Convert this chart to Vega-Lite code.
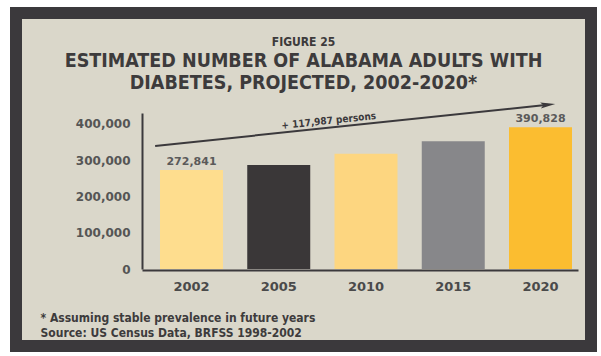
{
  "$schema": "https://vega.github.io/schema/vega-lite/v6.json",
  "autosize": {"type": "none"},
  "width": 575,
  "height": 333,
  "padding": {"left": 16, "top": 13, "right": 10, "bottom": 10},
  "background": "#ffffff",
  "config": {
    "view": {"fill": "#dad7ca", "stroke": "#3b393c", "strokeWidth": 12},
    "font": "DejaVu Sans"
  },
  "title": {
    "text": "FIGURE 25",
    "subtitle": ["ESTIMATED NUMBER OF ALABAMA ADULTS WITH", "DIABETES, PROJECTED, 2002-2020*"],
    "anchor": "middle",
    "frame": "group",
    "orient": "top",
    "offset": -80,
    "font": "DejaVu Sans Condensed",
    "fontSize": 12,
    "fontWeight": "bold",
    "color": "#3d3b3c",
    "subtitleFont": "DejaVu Sans Condensed",
    "subtitleFontSize": 19.5,
    "subtitleFontWeight": "bold",
    "subtitleColor": "#3d3b3c",
    "subtitlePadding": 3,
    "subtitleLineHeight": 22
  },
  "datasets": {
    "bars": [
      {"year": "2002", "value": 272841, "label": "272,841"},
      {"year": "2005", "value": 287000, "label": ""},
      {"year": "2010", "value": 318000, "label": ""},
      {"year": "2015", "value": 352000, "label": ""},
      {"year": "2020", "value": 390828, "label": "390,828"}
    ],
    "arrow": [
      {"ax": 0.242, "ay": 339000, "ax2": 0.925, "ay2": 452900, "note": "+ 117,987 persons", "tx": 0.544, "ty": 408000}
    ]
  },
  "layer": [
    {
      "data": {"name": "bars"},
      "layer": [
        {
          "mark": {"type": "bar"},
          "encoding": {
            "x": {
              "field": "year",
              "type": "ordinal",
              "scale": {"range": [126, 562], "paddingInner": 0.278, "paddingOuter": 0.1375, "align": 0.75},
              "axis": {
                "orient": "bottom",
                "offset": -76,
                "title": ["* Assuming stable prevalence in future years", "Source: US Census Data, BRFSS 1998-2002"],
                "titleAnchor": "start",
                "titleAlign": "left",
                "titleX": 24,
                "titleY": 42,
                "titleBaseline": "top",
                "titleFont": "DejaVu Sans Condensed",
                "titleFontSize": 12,
                "titleFontWeight": "bold",
                "titleColor": "#3d3b3c",
                "titleLineHeight": 15,
                "labelAngle": 0,
                "ticks": false,
                "grid": false,
                "domainColor": "#3b393c",
                "domainWidth": 2,
                "labelFont": "DejaVu Sans",
                "labelFontWeight": "bold",
                "labelFontSize": 13,
                "labelColor": "#4a4a4a",
                "labelPadding": 10
              }
            },
            "y": {
              "field": "value",
              "type": "quantitative",
              "scale": {"domain": [0, 430000], "range": [256, 100], "nice": false, "zero": true},
              "axis": {
                "orient": "left",
                "offset": -126,
                "title": null,
                "values": [0, 100000, 200000, 300000, 400000],
                "format": ",.0f",
                "ticks": false,
                "grid": false,
                "domainColor": "#3b393c",
                "domainWidth": 2,
                "labelFont": "DejaVu Sans",
                "labelFontWeight": "bold",
                "labelFontSize": 12,
                "labelColor": "#555555",
                "labelPadding": 12,
                "labelOverlap": false
              }
            },
            "color": {
              "field": "year",
              "type": "nominal",
              "scale": {"domain": ["2002", "2005", "2010", "2015", "2020"], "range": ["#fedd8e", "#3a3738", "#fdd680", "#87878a", "#fbbd30"]},
              "legend": null
            }
          }
        },
        {
          "transform": [{"filter": "datum.label != ''"}],
          "mark": {"type": "text", "baseline": "bottom", "dy": -3, "font": "DejaVu Sans", "fontWeight": "bold", "fontSize": 11, "color": "#5a5a5a"},
          "encoding": {
            "x": {"field": "year", "type": "ordinal"},
            "y": {"field": "value", "type": "quantitative"},
            "text": {"field": "label"}
          }
        }
      ]
    },
    {
      "data": {"name": "arrow"},
      "layer": [
        {
          "mark": {"type": "rule", "color": "#3b393c", "strokeWidth": 2},
          "encoding": {
            "x": {"field": "ax", "type": "quantitative", "scale": {"domain": [0, 1]}, "axis": null},
            "y": {"field": "ay", "type": "quantitative"},
            "x2": {"field": "ax2"},
            "y2": {"field": "ay2"}
          }
        },
        {
          "mark": {"type": "point", "filled": true, "opacity": 1, "color": "#3b393c", "size": 220, "angle": 354, "shape": "M 1 0 L -1 -0.4 L -0.6 0 L -1 0.4 Z"},
          "encoding": {
            "x": {"field": "ax2", "type": "quantitative", "scale": {"domain": [0, 1]}, "axis": null},
            "y": {"field": "ay2", "type": "quantitative"}
          }
        },
        {
          "mark": {"type": "text", "angle": 354, "baseline": "middle", "font": "DejaVu Sans Condensed", "fontWeight": "bold", "fontSize": 10, "color": "#3b393c"},
          "encoding": {
            "x": {"field": "tx", "type": "quantitative", "scale": {"domain": [0, 1]}, "axis": null},
            "y": {"field": "ty", "type": "quantitative"},
            "text": {"field": "note"}
          }
        }
      ]
    }
  ],
  "resolve": {"scale": {"x": "independent"}}
}
